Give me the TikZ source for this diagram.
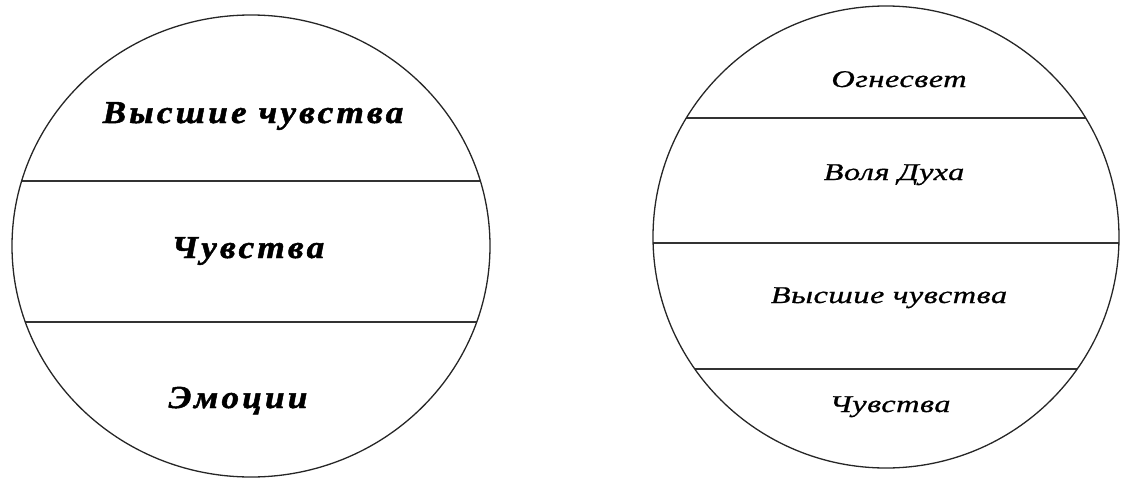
\documentclass[tikz,border=0pt]{standalone}
\usepackage{fontspec}
\setmainfont{Liberation Serif}
\newfontfamily\leftfont[LetterSpace=10, FakeStretch=1.1, FakeBold=1.5]{Liberation Serif}
\newfontfamily\rightfont[LetterSpace=2, FakeStretch=1.35, FakeBold=0.8]{Liberation Serif}
\usetikzlibrary{positioning}

\begin{document}
\begin{tikzpicture}[
  x=1pt, y=-1pt,
  rim/.style={line width=1.3pt, color=black!85},
  band/.style={line width=1.3pt, color=black!80},
  lefttext/.style={anchor=base, font=\leftfont\bfseries\itshape\fontsize{32}{36}\selectfont},
  righttext/.style={anchor=base, font=\rightfont\itshape\fontsize{24}{28}\selectfont}
]
\useasboundingbox (0,0) rectangle (1121,479);

% Left circle: three bands
\begin{scope}
  \clip (251,246) ellipse [x radius=239, y radius=231];
  \draw[band] (0,181) -- (520,181);
  \draw[band] (0,322) -- (520,322);
\end{scope}
\draw[rim] (251,246) ellipse [x radius=239, y radius=231];

\node[lefttext] (vysshie) at (253,123) {Высшие чувства};
\node[lefttext] (chuvstva) at (248,258) {Чувства};
\node[lefttext] (emocii) at (238,408) {Эмоции};

% Right circle: four bands
\begin{scope}
  \clip (886,237) ellipse [x radius=233, y radius=231];
  \draw[band] (640,118) -- (1121,118);
  \draw[band] (640,243) -- (1121,243);
  \draw[band] (640,369) -- (1121,369);
\end{scope}
\draw[rim] (886,237) ellipse [x radius=233, y radius=231];

\node[righttext] (ognesvet) at (899,87) {Огнесвет};
\node[righttext] (volya) at (894,180) {Воля Духа};
\node[righttext] (vysshie2) at (889,303) {Высшие чувства};
\node[righttext] (chuvstva2) at (890,412) {Чувства};

\end{tikzpicture}
\end{document}
